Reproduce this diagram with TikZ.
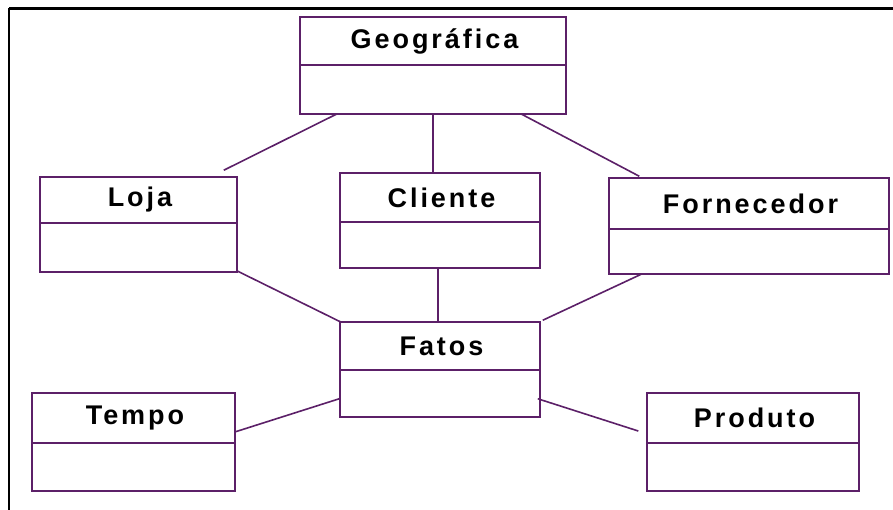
\documentclass[tikz,border=0pt]{standalone}
\usepackage{fontspec}
\setmainfont{Liberation Sans}
\newfontfamily\labelfont[LetterSpace=11]{Liberation Sans}
\usetikzlibrary{calc,fit}

\definecolor{umlpurple}{RGB}{92,32,104}

\tikzset{
  classframe/.style={draw=umlpurple, line width=1.5pt, inner sep=0pt, rectangle},
  classdivider/.style={draw=umlpurple, line width=1.5pt},
  classlabel/.style={inner sep=0pt, xshift=1.5pt, font=\labelfont\bfseries\fontsize{27}{32}\selectfont, text=black},
  link/.style={draw=umlpurple, line width=1.6pt},
  frameline/.style={draw=black, line width=2.5pt}
}

% #1 name, #2 left, #3 top, #4 right, #5 divider, #6 bottom, #7 label
\newcommand{\classbox}[7]{%
  \node[classframe, fit={(#2,#3) (#4,#6)}] (#1) {};
  \draw[classdivider] (#2,#5) -- (#4,#5);
  \node[classlabel] (#1-label) at ($(#2,#3)!0.5!(#4,#5)$) {#7};
}

\begin{document}
\begin{tikzpicture}[x=1pt,y=-1pt]
  \useasboundingbox (0,0) rectangle (893,510);
  \fill[white] (0,0) rectangle (893,510);

  % outer frame (top and left edges)
  \draw[frameline] (9,8.5) -- (893,8.5);
  \draw[frameline] (9,8.5) -- (9,510);

  % classes
  \classbox{geo}{300}{17}{566}{65}{114}{Geográfica}
  \classbox{loja}{40}{177}{237}{223}{272}{Loja}
  \classbox{cliente}{340}{173}{540}{222}{268}{Cliente}
  \classbox{forn}{609}{178}{889}{229}{274}{Fornecedor}
  \classbox{fatos}{340}{322}{540}{370}{417}{Fatos}
  \classbox{tempo}{32}{393}{235}{443}{491}{Tempo}
  \classbox{produto}{647}{393}{859}{443}{491}{Produto}

  % associations
  \draw[link] ([shift={(-14,-6)}]loja.north east) -- ([shift={(38,-1)}]geo.south west);
  \draw[link] (geo.south) -- (geo.south |- cliente.north);
  \draw[link] ([shift={(-46,-1)}]geo.south east) -- ([shift={(31,-1)}]forn.north west);
  \draw[link] ([shift={(-1,-2)}]loja.south east) -- ([shift={(2,1)}]fatos.north west);
  \draw[link] ([xshift=-2pt]cliente.south) -- ([xshift=-2pt]fatos.north);
  \draw[link] ([shift={(34,-1)}]forn.south west) -- ([shift={(2,-1)}]fatos.north east);
  \draw[link] ([shift={(-1,-10)}]tempo.east) -- ([shift={(0,-19)}]fatos.south west);
  \draw[link] ([shift={(-8,-11)}]produto.west) -- ([shift={(-3,-19)}]fatos.south east);
\end{tikzpicture}
\end{document}
